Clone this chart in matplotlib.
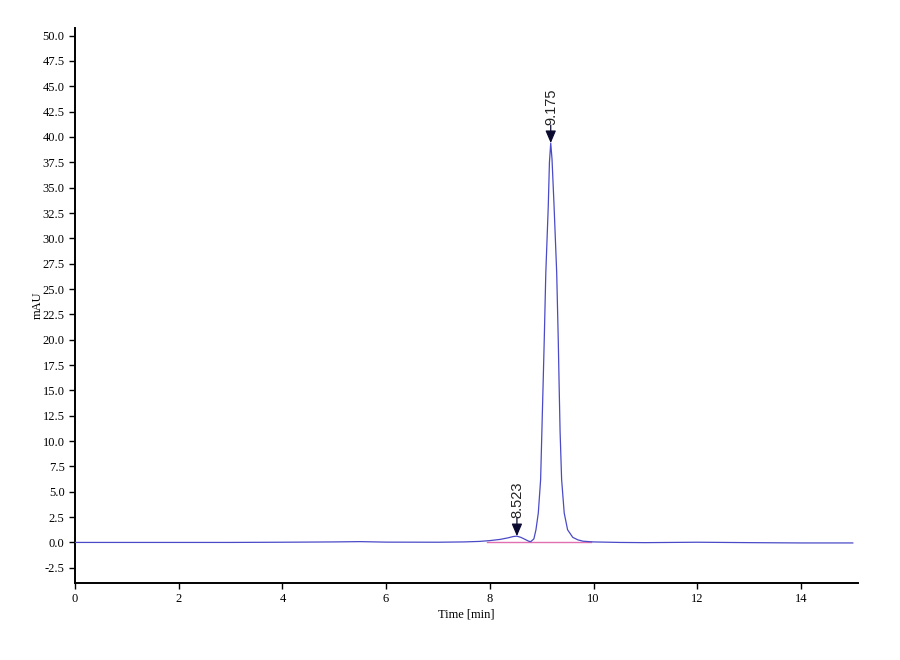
import matplotlib
matplotlib.use("Agg")
import matplotlib.pyplot as plt
import numpy as np

# Chromatogram trace (time in min, signal in mAU)
time_min = [0.0, 1.0, 2.0, 3.0, 4.0, 5.0, 5.5, 6.0, 7.0, 7.5, 7.8, 8.0, 8.2, 8.35,
            8.45, 8.523, 8.6, 8.68, 8.75, 8.79, 8.85, 8.89, 8.935, 8.98, 9.03,
            9.05, 9.08, 9.127, 9.15, 9.175, 9.2, 9.24, 9.29, 9.32, 9.335, 9.355,
            9.385, 9.435, 9.5, 9.6, 9.7, 9.8, 10.0, 10.5, 11.0, 12.0, 13.0, 14.0,
            15.0]
signal_mau = [0.0, 0.0, 0.0, 0.0, 0.02, 0.05, 0.08, 0.03, 0.02, 0.05, 0.1, 0.18,
              0.3, 0.45, 0.58, 0.62, 0.5, 0.3, 0.12, 0.08, 0.35, 1.25, 2.9, 6.2,
              16.0, 20.0, 26.6, 33.1, 37.5, 39.4, 37.8, 33.1, 26.6, 20.0, 16.0,
              11.0, 6.2, 2.9, 1.25, 0.5, 0.25, 0.12, 0.05, 0.0, -0.02, 0.02,
              -0.02, -0.05, -0.05]

# Integration baseline under the peaks
baseline_t = [7.95, 9.95]
baseline_y = [0.0, 0.0]

# Peak labels
peak_times = [8.523, 9.175]
peak_heights = [0.62, 39.4]
peak_labels = ["8.523", "9.175"]

y_ticks = np.arange(-2.5, 50.01, 2.5)
x_ticks = [0, 2, 4, 6, 8, 10, 12, 14]

fig = plt.figure(figsize=(9, 6.6), dpi=100)
ax = fig.add_axes([0.0833, 0.1167, 0.87, 0.841])

ax.plot(baseline_t, baseline_y, color="#e070b0", lw=1.0, zorder=2)
ax.plot(time_min, signal_mau, color="#4a4ac8", lw=0.9, zorder=3)

for t, h, lab in zip(peak_times, peak_heights, peak_labels):
    ax.annotate("", xy=(t, h), xytext=(0, 13), textcoords="offset points",
                arrowprops=dict(arrowstyle="-|>,head_length=0.75,head_width=0.32",
                                color="#0a0a30", lw=0.9, shrinkA=0, shrinkB=0),
                zorder=4)
    ax.annotate(lab, xy=(t, h), xytext=(0.5, 13), textcoords="offset points",
                rotation=90, ha="center", va="bottom", fontsize=10.5,
                family="Liberation Sans", color="#222222")

ax.set_xlim(0, 15.1)
ax.set_ylim(-4.0, 50.76)
ax.set_yticks(y_ticks)
ax.set_yticklabels([f"{v:.1f}" for v in y_ticks])
ax.set_xticks(x_ticks)

for side in ("top", "right"):
    ax.spines[side].set_visible(False)
for side in ("left", "bottom"):
    ax.spines[side].set_linewidth(1.4)

ax.tick_params(direction="out", length=4, width=1, labelsize=9)
for lbl in ax.get_xticklabels() + ax.get_yticklabels():
    lbl.set_family("Liberation Serif")

ax.set_xlabel("Time [min]", family="Liberation Serif", fontsize=9, labelpad=2)
ax.set_ylabel("mAU", family="Liberation Serif", fontsize=9)
ax.yaxis.set_label_coords(-0.040, 0.5)

fig.savefig("out.png", dpi=100)
